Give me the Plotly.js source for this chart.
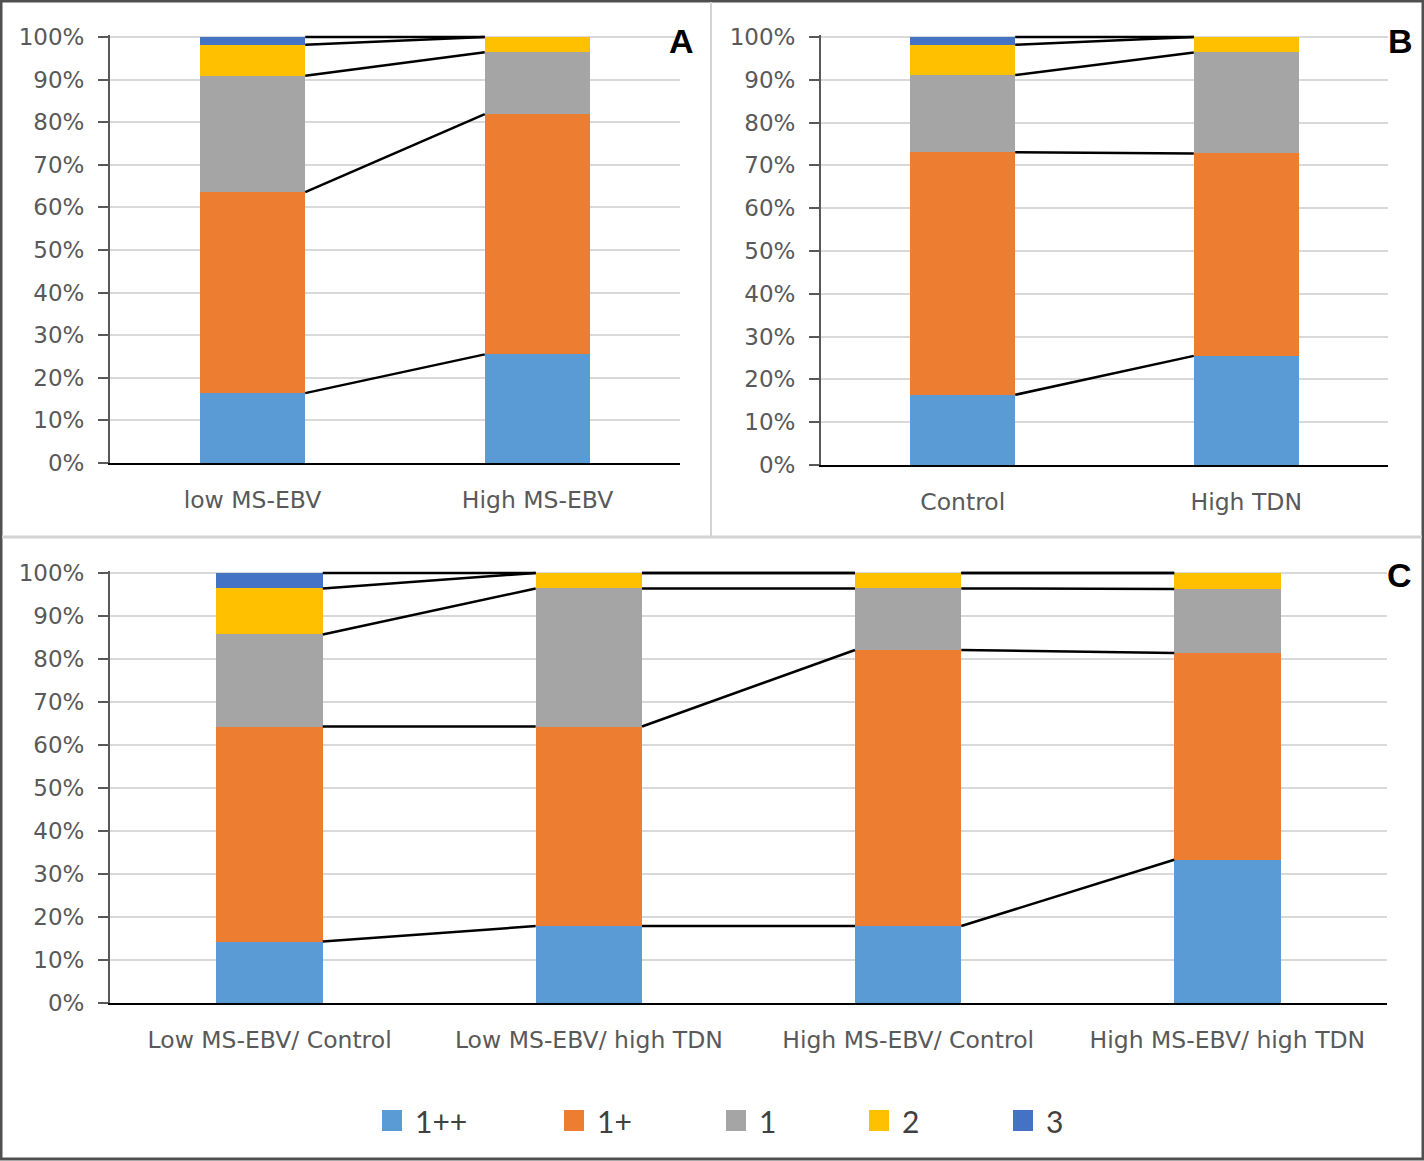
<!DOCTYPE html>
<html>
<head>
<meta charset="utf-8">
<script src="https://cdn.plot.ly/plotly-3.0.1.min.js"></script>
<style>html,body{margin:0;padding:0;background:#fff;}#chart{width:1424px;height:1161px;}</style>
</head>
<body>
<div id="chart"></div>
<script>
// ---- data (percent of animals per score) ----
const seriesNames = ['1++', '1+', '1', '2', '3'];
const seriesColors = ['#5B9BD5', '#ED7D31', '#A5A5A5', '#FFC000', '#4472C4'];

const groupsA = ['low MS-EBV', 'High MS-EBV'];
const A_1pp = [16.4, 25.5];
const A_1p  = [47.2, 56.4];
const A_1   = [27.3, 14.5];
const A_2   = [7.3, 3.6];
const A_3   = [1.8, 0];

const groupsB = ['Control', 'High TDN'];
const B_1pp = [16.4, 25.5];
const B_1p  = [56.7, 47.3];
const B_1   = [18.0, 23.6];
const B_2   = [7.1, 3.6];
const B_3   = [1.8, 0];

const groupsC = ['Low MS-EBV/ Control', 'Low MS-EBV/ high TDN', 'High MS-EBV/ Control', 'High MS-EBV/ high TDN'];
const C_1pp = [14.3, 17.9, 17.9, 33.3];
const C_1p  = [50.0, 46.4, 64.2, 48.1];
const C_1   = [21.4, 32.1, 14.3, 14.9];
const C_2   = [10.7, 3.6, 3.6, 3.7];
const C_3   = [3.6, 0, 0, 0];

const yTicks = [0, 10, 20, 30, 40, 50, 60, 70, 80, 90, 100];
const yTickText = yTicks.map(v => v + '%');

// ---- helpers ----
const W = 1424, H = 1161;
const px = x => x / W;
const py = y => 1 - y / H;

const traces = [];
function addPanel(groups, series, xa, ya, barWidth) {
  const xs = groups.map((g, i) => i);
  series.forEach((vals, s) => {
    traces.push({
      type: 'bar', x: xs, y: vals, width: barWidth,
      name: seriesNames[s], marker: {color: seriesColors[s], line: {width: 0}},
      xaxis: xa, yaxis: ya, hoverinfo: 'skip', showlegend: false
    });
  });
  // series lines (connect cumulative tops between adjacent bars)
  const cum = [];
  let run = groups.map(() => 0);
  series.forEach(vals => { run = run.map((r, i) => r + vals[i]); cum.push(run.slice()); });
  const lx = [], ly = [];
  cum.forEach(c => {
    for (let i = 0; i < groups.length - 1; i++) {
      lx.push(i + barWidth / 2, i + 1 - barWidth / 2, null);
      ly.push(Math.min(c[i], 100), Math.min(c[i + 1], 100), null);
    }
  });
  traces.push({
    type: 'scatter', mode: 'lines', x: lx, y: ly, xaxis: xa, yaxis: ya,
    line: {color: '#000000', width: 2.5}, hoverinfo: 'skip', showlegend: false, connectgaps: false
  });
}

addPanel(groupsA, [A_1pp, A_1p, A_1, A_2, A_3], 'x', 'y', 0.37);
addPanel(groupsB, [B_1pp, B_1p, B_1, B_2, B_3], 'x2', 'y2', 0.37);
addPanel(groupsC, [C_1pp, C_1p, C_1, C_2, C_3], 'x3', 'y3', 0.333);

const tickFont = {family: 'DejaVu Sans', size: 23, color: '#595959'};
const catFont = {family: 'DejaVu Sans', size: 23.5, color: '#595959'};

function xAxis(domain, groups, anchor) {
  return {
    domain: domain, anchor: anchor, range: [-0.5, groups.length - 0.5],
    tickmode: 'array', tickvals: groups.map((g, i) => i), ticktext: groups,
    showgrid: false, zeroline: false, showline: true, linecolor: '#000000', linewidth: 2,
    ticks: '', tickfont: catFont, ticklabelstandoff: 15, fixedrange: true
  };
}
function yAxis(top, bottom, anchor) {
  // range slightly above 100 so the top series line is not clipped
  const extra = 0.5;
  const pxPerUnit = (bottom - top) / 100;
  return {
    domain: [py(bottom), py(top - extra * pxPerUnit)], anchor: anchor, range: [0, 100 + extra],
    tickmode: 'array', tickvals: yTicks, ticktext: yTickText,
    showgrid: true, gridcolor: '#d9d9d9', gridwidth: 2,
    zeroline: false, showline: true, linecolor: '#595959', linewidth: 2,
    ticks: 'outside', ticklen: 10, tickcolor: '#595959', tickwidth: 2,
    tickfont: tickFont, ticklabelstandoff: 9, fixedrange: true
  };
}

const legendX = [382, 564, 726, 869, 1013];
const shapes = [
  {type: 'rect', xref: 'paper', yref: 'paper', x0: px(1), x1: px(W - 1), y0: py(H - 2), y1: py(1), line: {color: '#505050', width: 3}},
  {type: 'line', xref: 'paper', yref: 'paper', x0: px(711), x1: px(711), y0: py(537), y1: py(2), line: {color: '#d4d4d4', width: 2}},
  {type: 'line', xref: 'paper', yref: 'paper', x0: px(2), x1: px(W - 2), y0: py(537), y1: py(537), line: {color: '#d4d4d4', width: 3}}
];
const annotations = [
  {text: '<b>A</b>', x: px(681), y: py(41), xref: 'paper', yref: 'paper', showarrow: false, xanchor: 'center', yanchor: 'middle', font: {family: 'Liberation Sans', size: 34, color: '#000'}},
  {text: '<b>B</b>', x: px(1400), y: py(41), xref: 'paper', yref: 'paper', showarrow: false, xanchor: 'center', yanchor: 'middle', font: {family: 'Liberation Sans', size: 34, color: '#000'}},
  {text: '<b>C</b>', x: px(1399), y: py(575), xref: 'paper', yref: 'paper', showarrow: false, xanchor: 'center', yanchor: 'middle', font: {family: 'Liberation Sans', size: 34, color: '#000'}}
];
seriesNames.forEach((n, i) => {
  shapes.push({type: 'rect', xref: 'paper', yref: 'paper', x0: px(legendX[i]), x1: px(legendX[i] + 20), y0: py(1131), y1: py(1110), fillcolor: seriesColors[i], line: {width: 0}});
  annotations.push({text: n, x: px(legendX[i] + 31), y: py(1121), xref: 'paper', yref: 'paper', showarrow: false, xanchor: 'left', yanchor: 'middle', font: {family: 'Lato', size: 30, color: '#404040'}});
});

const layout = {
  width: W, height: H, margin: {l: 0, r: 0, t: 0, b: 0},
  paper_bgcolor: '#ffffff', plot_bgcolor: '#ffffff',
  barmode: 'stack', showlegend: false,
  xaxis: xAxis([px(110), px(680)], groupsA, 'y'),
  yaxis: yAxis(37, 463, 'x'),
  xaxis2: xAxis([px(821), px(1388)], groupsB, 'y2'),
  yaxis2: yAxis(37, 465, 'x2'),
  xaxis3: xAxis([px(110), px(1387)], groupsC, 'y3'),
  yaxis3: yAxis(573, 1003, 'x3'),
  shapes: shapes, annotations: annotations
};

Plotly.newPlot('chart', traces, layout, {displayModeBar: false, staticPlot: true});
</script>
</body>
</html>
